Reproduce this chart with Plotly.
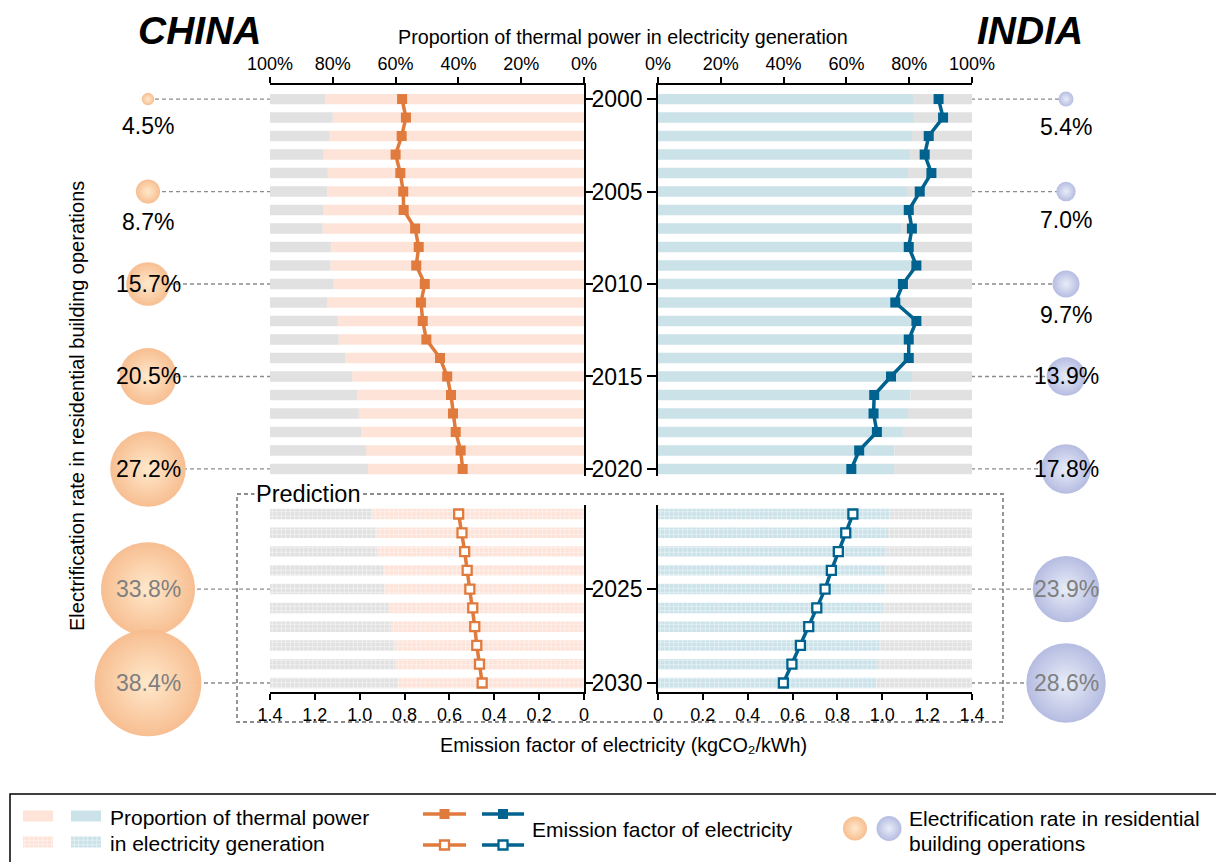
import plotly.graph_objects as go

# ---------------- data ----------------
years_hist = list(range(2000, 2021))
years_pred = list(range(2021, 2031))

china_thermal_hist = [82.3, 80.0, 81.0, 82.9, 81.6, 81.8, 82.9, 83.2, 80.6, 80.7, 79.7,
                      81.7, 78.4, 78.1, 76.0, 73.8, 72.3, 71.7, 71.0, 69.4, 68.8]
china_ef_hist = [0.811, 0.794, 0.813, 0.840, 0.819, 0.806, 0.804, 0.753, 0.737, 0.748, 0.710,
                 0.727, 0.719, 0.703, 0.642, 0.610, 0.593, 0.584, 0.572, 0.550, 0.541]
india_thermal_hist = [81.2, 81.5, 80.9, 80.3, 79.6, 79.3, 81.0, 77.4, 80.0, 81.0, 79.7,
                      77.7, 80.7, 81.3, 81.3, 80.9, 80.4, 79.6, 78.0, 75.3, 75.2]
india_ef_hist = [1.251, 1.271, 1.207, 1.189, 1.219, 1.167, 1.118, 1.132, 1.118, 1.152, 1.092,
                 1.058, 1.152, 1.118, 1.118, 1.039, 0.964, 0.961, 0.976, 0.897, 0.862]

china_thermal_pred = [67.4, 66.1, 65.8, 64.0, 63.5, 61.9, 61.4, 60.3, 60.0, 59.3]
china_ef_pred = [0.559, 0.544, 0.532, 0.521, 0.509, 0.496, 0.487, 0.478, 0.466, 0.454]
india_thermal_pred = [73.8, 73.3, 72.7, 72.5, 72.2, 71.7, 70.9, 70.6, 70.1, 69.6]
india_ef_pred = [0.869, 0.837, 0.804, 0.773, 0.745, 0.708, 0.672, 0.635, 0.597, 0.559]

bubble_years = [2000, 2005, 2010, 2015, 2020, 2025, 2030]
china_elec = [4.5, 8.7, 15.7, 20.5, 27.2, 33.8, 38.4]
india_elec = [5.4, 7.0, 9.7, 13.9, 17.8, 23.9, 28.6]

pct_ticks = [0, 20, 40, 60, 80, 100]
pct_ticktext = [f"{t}%" for t in pct_ticks]
ef_ticks = [0, 0.2, 0.4, 0.6, 0.8, 1.0, 1.2, 1.4]
ef_ticktext = ["0" if t == 0 else f"{t:.1f}" for t in ef_ticks]
year_ticks_top = [2000, 2005, 2010, 2015, 2020]
year_ticks_bot = [2025, 2030]

# ---------------- layout helpers ----------------
W, H = 1216, 862
def px(v): return v / W
def py(v): return 1 - v / H

FONT = "Liberation Sans, Arial, Helvetica, sans-serif"
ORANGE = "#E07A3D"
BLUE = "#00628F"
PINK = "#FDE3D8"
GREY = "#E1E1E1"
LBLUE = "#CBE2E9"
DGREY = "#8C8C8C"
# sphere colours: (edge, centre)
CH_E, CH_C = "#F7BC8E", "#FFE8C9"
IN_E, IN_C = "#B3BAE0", "#E8EDF8"

CH = [px(270), px(584)]
IN = [px(658), px(972)]
TOP = [py(476), py(85)]
BOT = [py(692), py(505)]
top_range = [2020.38, 1999.24]
bot_range = [2030.48, 2020.52]
BUB_L = [px(100), px(196)]
BUB_R = [px(1018), px(1114)]

fig = go.Figure()

def pattern(c):
    return dict(shape='+', fgcolor='white', bgcolor=c, size=4.5, solidity=0.35, fillmode='overlay')

def hbars(years, thermal, color, xa, ya, patterned=False):
    other = [100 - t for t in thermal]
    m1 = dict(color=color, line=dict(width=0))
    m2 = dict(color=GREY, line=dict(width=0))
    if patterned:
        m1['pattern'] = pattern(color)
        m2['pattern'] = pattern(GREY)
    fig.add_trace(go.Bar(y=years, x=thermal, base=[0] * len(years), orientation='h', width=0.56,
                         marker=m1, xaxis=xa, yaxis=ya, showlegend=False, hoverinfo='skip'))
    fig.add_trace(go.Bar(y=years, x=other, base=thermal, orientation='h', width=0.56,
                         marker=m2, xaxis=xa, yaxis=ya, showlegend=False, hoverinfo='skip'))

def efline(years, ef, color, xa, ya, open_marker=False):
    if open_marker:
        mk = dict(symbol='square', size=9, color='white', line=dict(color=color, width=2.3))
    else:
        mk = dict(symbol='square', size=10, color=color, line=dict(width=0))
    fig.add_trace(go.Scatter(x=ef, y=years, mode='lines+markers', line=dict(color=color, width=3.5),
                             marker=mk, xaxis=xa, yaxis=ya, showlegend=False, cliponaxis=False))

# bars
hbars(years_hist, china_thermal_hist, PINK, 'x', 'y')
hbars(years_hist, india_thermal_hist, LBLUE, 'x3', 'y2')
hbars(years_pred, china_thermal_pred, PINK, 'x5', 'y3', True)
hbars(years_pred, india_thermal_pred, LBLUE, 'x7', 'y4', True)
# lines
efline(years_hist, china_ef_hist, ORANGE, 'x2', 'y')
efline(years_hist, india_ef_hist, BLUE, 'x4', 'y2')
efline(years_pred, china_ef_pred, ORANGE, 'x6', 'y3', True)
efline(years_pred, india_ef_pred, BLUE, 'x8', 'y4', True)

shapes = []
annotations = []

def sphere(x, y, d, edge, centre, xa, ya):
    fig.add_trace(go.Scatter(x=[x], y=[y], mode='markers', xaxis=xa, yaxis=ya, cliponaxis=False,
                             marker=dict(size=d, sizemode='diameter', color=edge, opacity=0.97,
                                         gradient=dict(type='radial', color=centre), line=dict(width=0)),
                             showlegend=False, hoverinfo='skip'))

# bubbles
def bubbles(vals, xa, ya_top, ya_bot, edge, centre, cx_px, edge_px):
    for yr, v in zip(bubble_years, vals):
        ya = ya_top if yr <= 2020 else ya_bot
        shapes.append(dict(type='line', xref='paper', yref=ya, x0=px(cx_px), x1=px(edge_px), y0=yr, y1=yr,
                           line=dict(color=DGREY, width=1.3, dash='4px,3px'), layer='below'))
        d = v * 2.78
        sphere(0.5, yr, d, edge, centre, xa, ya)
        below = v < 12
        annotations.append(dict(xref=xa, yref=ya, x=0.5, y=yr, text=f"{v}%", showarrow=False,
                                yshift=-(d * 0.25 + 24) if below else 0,
                                font=dict(family=FONT, size=23, color='#7F7F7F' if yr > 2020 else 'black')))

bubbles(china_elec, 'x9', 'y', 'y3', CH_E, CH_C, 148, 270)
bubbles(india_elec, 'x10', 'y2', 'y4', IN_E, IN_C, 1066, 972)

# ---------------- legend ----------------
def leg_bar(x0, x1, yc, color, patterned=False):
    m = dict(color=color, line=dict(width=0))
    if patterned:
        m['pattern'] = pattern(color)
    fig.add_trace(go.Bar(y=[yc], x=[x1 - x0], base=[x0], orientation='h', width=11, marker=m,
                         xaxis='x11', yaxis='y5', showlegend=False, hoverinfo='skip'))

leg_bar(23, 53, 816, PINK)
leg_bar(71, 101, 816, LBLUE)
leg_bar(23, 53, 842, PINK, True)
leg_bar(71, 101, 842, LBLUE, True)

def leg_line(x0, x1, yc, color, open_marker):
    fig.add_trace(go.Scatter(x=[x0, x1], y=[yc, yc], mode='lines', line=dict(color=color, width=3.5),
                             xaxis='x11', yaxis='y5', showlegend=False, hoverinfo='skip'))
    if open_marker:
        mk = dict(symbol='square', size=9, color='white', line=dict(color=color, width=2.3))
    else:
        mk = dict(symbol='square', size=10, color=color, line=dict(width=0))
    fig.add_trace(go.Scatter(x=[(x0 + x1) / 2], y=[yc], mode='markers', marker=mk,
                             xaxis='x11', yaxis='y5', showlegend=False, hoverinfo='skip'))

leg_line(423, 466, 814, ORANGE, False)
leg_line(482, 524, 814, BLUE, False)
leg_line(423, 466, 845, ORANGE, True)
leg_line(482, 524, 845, BLUE, True)

sphere(855, 828.5, 24, CH_E, CH_C, 'x11', 'y5')
sphere(889, 828.5, 25, IN_E, IN_C, 'x11', 'y5')

def txt(x, y, s, size, xanchor='left', color='black', **kw):
    annotations.append(dict(xref='paper', yref='paper', x=px(x), y=py(y), text=s, showarrow=False,
                            xanchor=xanchor, yanchor='middle', font=dict(family=FONT, size=size, color=color), **kw))

txt(108, 817, "Proportion of thermal power", 21)
txt(108, 843, "in electricity generation", 21)
txt(530, 829, "Emission factor of electricity", 21)
txt(907, 818, "Electrification rate in residential", 21)
txt(907, 843, "building operations", 21)

shapes.append(dict(type='rect', xref='paper', yref='paper', x0=px(10), x1=1.02, y0=py(794), y1=-0.02,
                   line=dict(color='black', width=1.5), fillcolor='rgba(0,0,0,0)'))

# prediction box
shapes.append(dict(type='rect', xref='paper', yref='paper', x0=px(237), x1=px(1003), y0=py(494), y1=py(722),
                   line=dict(color=DGREY, width=1.8, dash='4px,3px'), fillcolor='rgba(0,0,0,0)', layer='below'))
txt(254, 494, "Prediction", 23.5, bgcolor='white', borderpad=1)

# titles
txt(200, 30, "<b><i>CHINA</i></b>", 39, xanchor='center')
txt(1030, 30, "<b><i>INDIA</i></b>", 39, xanchor='center')
txt(623, 37, "Proportion of thermal power in electricity generation", 19.7, xanchor='center')
txt(623, 745, "Emission factor of electricity (kgCO₂/kWh)", 19.8, xanchor='center')
txt(77, 406, "Electrification rate in residential building operations", 20, xanchor='center', textangle=-90)

# ---------------- axes ----------------
axline = dict(showline=True, linecolor='black', linewidth=1.6, showgrid=False, zeroline=False,
              tickcolor='black', tickwidth=1.5, tickfont=dict(family=FONT, size=18, color='black'))
yfont = dict(family=FONT, size=23, color='black')
hidden = dict(visible=False, showgrid=False, zeroline=False)

fig.update_layout(
    width=W, height=H, margin=dict(l=0, r=0, t=0, b=0, pad=0, autoexpand=False), autosize=False,
    paper_bgcolor='white', plot_bgcolor='rgba(0,0,0,0)', barmode='overlay',
    font=dict(family=FONT, color='black'), showlegend=False,
    xaxis=dict(domain=CH, range=[100, 0], side='top', anchor='y', ticks='outside', ticklen=6,
               tickvals=pct_ticks, ticktext=pct_ticktext, **axline),
    xaxis2=dict(domain=CH, range=[1.4, 0], overlaying='x', anchor='y', **hidden),
    yaxis=dict(domain=TOP, range=top_range, anchor='x', side='right', ticks='outside', ticklen=7,
               tickvals=year_ticks_top, showticklabels=False, **axline),
    xaxis3=dict(domain=IN, range=[0, 100], side='top', anchor='y2', ticks='outside', ticklen=6,
                tickvals=pct_ticks, ticktext=pct_ticktext, **axline),
    xaxis4=dict(domain=IN, range=[0, 1.4], overlaying='x3', anchor='y2', **hidden),
    yaxis2=dict(domain=TOP, range=top_range, anchor='x3', side='left', ticks='outside', ticklen=9,
                tickvals=year_ticks_top, **{**axline, 'tickfont': yfont}),
    xaxis5=dict(domain=CH, range=[100, 0], anchor='y3', **hidden),
    xaxis6=dict(domain=CH, range=[1.4, 0], overlaying='x5', anchor='y3', side='bottom', ticks='outside',
                ticklen=6, tickvals=ef_ticks, ticktext=ef_ticktext, **axline),
    yaxis3=dict(domain=BOT, range=bot_range, anchor='x5', side='right', ticks='outside', ticklen=7,
                tickvals=year_ticks_bot, showticklabels=False, **axline),
    xaxis7=dict(domain=IN, range=[0, 100], anchor='y4', **hidden),
    xaxis8=dict(domain=IN, range=[0, 1.4], overlaying='x7', anchor='y4', side='bottom', ticks='outside',
                ticklen=6, tickvals=ef_ticks, ticktext=ef_ticktext, **axline),
    yaxis4=dict(domain=BOT, range=bot_range, anchor='x7', side='left', ticks='outside', ticklen=9,
                tickvals=year_ticks_bot, **{**axline, 'tickfont': yfont}),
    xaxis9=dict(domain=BUB_L, range=[0, 1], anchor='y', **hidden),
    xaxis10=dict(domain=BUB_R, range=[0, 1], anchor='y2', **hidden),
    xaxis11=dict(domain=[0, 1], range=[0, W], anchor='y5', **hidden),
    yaxis5=dict(domain=[0, py(793)], range=[H, 793], anchor='x11', **hidden),
    shapes=shapes, annotations=annotations,
)

fig.write_html("out.html", config={'displayModeBar': False},
               post_script="document.body.style.margin='0';document.body.style.overflow='hidden';")
